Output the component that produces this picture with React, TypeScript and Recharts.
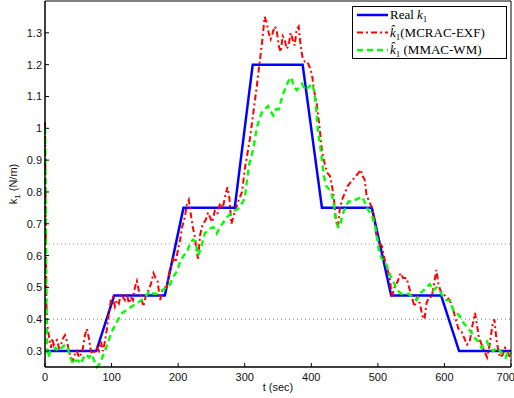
import { Legend, Line, LineChart, ReferenceLine, XAxis, YAxis } from 'recharts';

const timeTicks = [0, 100, 200, 300, 400, 500, 600, 700];
const gainTicks = [0.3, 0.4, 0.5, 0.6, 0.7, 0.8, 0.9, 1, 1.1, 1.2, 1.3];
const guideLevels = [0.4, 0.637];

// [t (sec), k1 (N/m)]
const realSamples: [number, number][] = [
  [0, 0.3], [77, 0.3], [104, 0.475], [180, 0.475], [208, 0.75], [285, 0.75], [312, 1.2],
  [387, 1.2], [416, 0.75], [491, 0.75], [520, 0.475], [595, 0.475], [622, 0.3], [700, 0.3],
];

const mcracSamples: [number, number][] = [
  [0, 1.02], [1, 0.72], [2, 0.46], [3, 0.39], [5, 0.36], [7, 0.33], [9, 0.31], [11, 0.34], [13, 0.32],
  [15, 0.33], [18, 0.335], [21, 0.31], [24, 0.32], [27, 0.34], [30, 0.35], [33, 0.33], [36, 0.3],
  [39, 0.28], [42, 0.27], [45, 0.29], [48, 0.3], [51, 0.28], [54, 0.29], [57, 0.31], [60, 0.35],
  [63, 0.37], [66, 0.34], [69, 0.3], [72, 0.29], [75, 0.3], [78, 0.31], [81, 0.3], [84, 0.33],
  [87, 0.3], [90, 0.33], [93, 0.37], [96, 0.42], [99, 0.46],
  [102, 0.47], [105, 0.44], [108, 0.46], [111, 0.45], [114, 0.48], [117, 0.47], [120, 0.46],
  [123, 0.48], [126, 0.45], [129, 0.47], [132, 0.46], [135, 0.5], [138, 0.52], [141, 0.49],
  [144, 0.47], [148, 0.44], [151, 0.47], [155, 0.49], [159, 0.51], [163, 0.545], [166, 0.53],
  [169, 0.52], [173, 0.46], [176, 0.49], [180, 0.5], [183, 0.5], [187, 0.55], [190, 0.57],
  [193, 0.59], [196, 0.58], [200, 0.62],
  [203, 0.65], [206, 0.69], [210, 0.72], [213, 0.76], [216, 0.775], [219, 0.73], [222, 0.69],
  [225, 0.66], [228, 0.61], [230, 0.59], [233, 0.665], [237, 0.7], [241, 0.71], [245, 0.735],
  [248, 0.72], [251, 0.705], [255, 0.74], [259, 0.73], [263, 0.765], [267, 0.75], [271, 0.79],
  [274, 0.815], [277, 0.78], [280, 0.7], [284, 0.73], [288, 0.755], [292, 0.78], [296, 0.8],
  [300, 0.87],
  [304, 0.92], [308, 0.97], [313, 1.05], [318, 1.13], [322, 1.2], [326, 1.27], [330, 1.35],
  [333, 1.33], [336, 1.3], [339, 1.28], [342, 1.3], [345, 1.32], [348, 1.31], [351, 1.26],
  [354, 1.24], [357, 1.29], [360, 1.28], [363, 1.25], [366, 1.26], [369, 1.3], [372, 1.28],
  [375, 1.26], [378, 1.31], [381, 1.32], [384, 1.26], [387, 1.22], [390, 1.21], [394, 1.21],
  [398, 1.19],
  [401, 1.17], [404, 1.12], [408, 1.08], [412, 1.01], [416, 0.93], [420, 0.89], [424, 0.86],
  [428, 0.85], [431, 0.82], [434, 0.78], [437, 0.71], [440, 0.69], [443, 0.75], [447, 0.78],
  [451, 0.8], [455, 0.82], [459, 0.83], [463, 0.84], [467, 0.85], [471, 0.86], [474, 0.87],
  [477, 0.85], [480, 0.84], [483, 0.79], [487, 0.77], [491, 0.75], [494, 0.72], [498, 0.66],
  [502, 0.64], [506, 0.63], [510, 0.59], [514, 0.56], [518, 0.53], [521, 0.47], [525, 0.5],
  [530, 0.52], [534, 0.545], [538, 0.53], [543, 0.53], [547, 0.5], [551, 0.47], [555, 0.44],
  [559, 0.47], [563, 0.45], [567, 0.41], [570, 0.4], [573, 0.45], [577, 0.47], [581, 0.47],
  [585, 0.52], [588, 0.555], [591, 0.51], [594, 0.49], [598, 0.48],
  [603, 0.47], [608, 0.46], [613, 0.43], [617, 0.4], [621, 0.37], [626, 0.36], [630, 0.34],
  [634, 0.32], [638, 0.33], [642, 0.38], [646, 0.42], [649, 0.38], [652, 0.34], [656, 0.32],
  [660, 0.3], [664, 0.28], [668, 0.32], [672, 0.38], [675, 0.4], [678, 0.34], [681, 0.3],
  [684, 0.28], [688, 0.29], [691, 0.31], [695, 0.3], [698, 0.28], [700, 0.27],
];

const mmacSamples: [number, number][] = [
  [0, 1.0], [1, 0.78], [2, 0.5], [3, 0.31], [5, 0.28], [8, 0.3], [12, 0.3], [16, 0.31], [20, 0.3],
  [25, 0.31], [30, 0.32], [34, 0.31], [38, 0.28], [42, 0.26], [46, 0.27], [50, 0.27], [54, 0.26],
  [58, 0.28], [62, 0.29], [66, 0.28], [70, 0.29], [74, 0.27], [78, 0.25], [82, 0.26], [86, 0.28],
  [90, 0.3], [95, 0.33], [100, 0.36], [105, 0.38], [110, 0.4], [116, 0.42], [123, 0.43],
  [130, 0.44], [138, 0.45], [145, 0.46], [150, 0.47], [158, 0.49], [163, 0.48], [168, 0.48],
  [175, 0.49], [183, 0.5], [188, 0.51], [193, 0.535], [198, 0.55], [203, 0.58], [208, 0.6],
  [213, 0.61], [218, 0.64], [222, 0.65], [226, 0.645], [230, 0.6], [234, 0.62], [240, 0.67],
  [248, 0.685], [253, 0.69], [258, 0.67], [263, 0.69], [268, 0.705], [273, 0.72], [278, 0.73],
  [283, 0.74], [288, 0.745], [292, 0.75], [296, 0.765], [300, 0.78], [303, 0.83], [307, 0.89],
  [311, 0.92], [314, 0.95], [318, 1.0], [322, 1.03], [326, 1.05], [330, 1.06], [335, 1.07],
  [340, 1.05], [343, 1.04], [347, 1.06], [351, 1.06], [355, 1.09], [358, 1.11], [362, 1.13],
  [366, 1.15], [370, 1.16], [374, 1.13], [378, 1.12], [382, 1.13], [386, 1.14], [391, 1.12],
  [396, 1.13], [401, 1.14], [404, 1.12], [407, 1.07], [410, 0.99], [413, 0.95], [416, 0.9],
  [419, 0.85], [422, 0.82], [426, 0.81], [430, 0.8], [434, 0.76], [437, 0.71], [440, 0.69],
  [443, 0.69], [447, 0.73], [451, 0.75], [456, 0.77], [461, 0.77], [466, 0.775], [471, 0.78],
  [476, 0.785], [480, 0.77], [485, 0.745], [490, 0.73], [495, 0.7], [498, 0.67], [502, 0.61],
  [506, 0.59], [511, 0.58], [516, 0.555], [520, 0.53], [525, 0.51], [530, 0.49], [535, 0.48],
  [540, 0.48], [546, 0.48], [552, 0.47], [558, 0.46], [563, 0.48], [568, 0.49], [573, 0.5],
  [578, 0.51], [583, 0.49], [588, 0.5], [593, 0.49], [598, 0.47], [603, 0.46], [608, 0.46],
  [613, 0.43], [618, 0.42], [623, 0.41], [628, 0.39], [634, 0.375], [640, 0.36], [646, 0.34],
  [651, 0.33], [656, 0.31], [660, 0.32], [664, 0.33], [668, 0.31], [673, 0.3], [679, 0.31],
  [684, 0.3], [688, 0.29], [692, 0.28], [696, 0.3], [700, 0.29],
];

const toPoints = (s: [number, number][]) => s.map(([t, k]) => ({ t, k }));

const SANS = '"Liberation Sans", Arial, Helvetica, sans-serif';
const SERIF = '"Liberation Serif", "Times New Roman", Times, serif';

const tickStyle = { fontSize: 11, fill: '#111', fontFamily: SANS };
const fmtGain = (v: number) => String(Number(v.toFixed(1)));

const legendRows = [
  { color: '#0000ff', dash: undefined, width: 2.5, pre: 'Real ', hat: false, post: '' },
  { color: '#ff0000', dash: '6 3 2 3', width: 2, pre: '', hat: true, post: '(MCRAC-EXF)' },
  { color: '#00ff00', dash: '6 4', width: 2.4, pre: '', hat: true, post: ' (MMAC-WM)' },
];

function LegendBox() {
  return (
    <svg width={156} height={54} style={{ display: 'block' }}>
      <rect x={0.5} y={0.5} width={154} height={52} fill="#fff" stroke="#000" strokeWidth={1} />
      {legendRows.map((r, i) => {
        const cy = 9 + i * 17.5;
        return (
          <g key={i}>
            <line x1={5} x2={36} y1={cy} y2={cy} stroke={r.color} strokeWidth={r.width} strokeDasharray={r.dash} />
            <text x={38} y={cy + 4} fontFamily={SERIF} fontSize={13} fill="#000">
              {r.pre}
              <tspan fontStyle="italic">{r.hat ? 'k\u0302' : 'k'}</tspan>
              <tspan dy={3} fontSize={9}>1</tspan>
              <tspan dy={-3}>{r.post}</tspan>
            </text>
          </g>
        );
      })}
    </svg>
  );
}

const timeLabel = (props: any) => {
  const vb = props.viewBox ?? { x: 45, y: 367, width: 466 };
  return (
    <text x={vb.x + vb.width / 2} y={vb.y + 24} textAnchor="middle" fontFamily={SANS} fontSize={11} fill="#111">
      t (sec)
    </text>
  );
};

const gainLabel = (props: any) => {
  const vb = props.viewBox ?? { y: 1, height: 366 };
  const cy = vb.y + vb.height / 2;
  return (
    <text transform={`translate(17 ${cy}) rotate(-90)`} textAnchor="middle" fontFamily={SANS} fontSize={11} fill="#111">
      k<tspan dy={3} fontSize={8}>1</tspan>
      <tspan dy={-3}> (N/m)</tspan>
    </text>
  );
};

export default function App() {
  return (
    <div style={{ position: 'absolute', left: 0, top: 0, width: 514, height: 398, background: '#fff' }}>
      <LineChart width={514} height={398} margin={{ top: 0, right: 2, bottom: 0, left: 0 }}>
        <XAxis
          dataKey="t"
          type="number"
          domain={[0, 700]}
          ticks={timeTicks}
          height={31}
          tickSize={-4}
          tickMargin={10}
          tick={tickStyle}
          stroke="#000"
          axisLine={{ stroke: '#000', strokeWidth: 1.5 }}
          tickLine={{ stroke: '#000' }}
          label={timeLabel}
        />
        <XAxis
          xAxisId="top"
          orientation="top"
          type="number"
          domain={[0, 700]}
          ticks={timeTicks}
          height={1}
          tickSize={-4}
          tickFormatter={() => ''}
          axisLine={{ stroke: '#000', strokeWidth: 1 }}
          tickLine={{ stroke: '#000' }}
        />
        <YAxis
          type="number"
          domain={[0.25, 1.4]}
          ticks={gainTicks}
          width={45}
          tickSize={-4}
          tickMargin={7}
          tick={tickStyle}
          tickFormatter={fmtGain}
          axisLine={{ stroke: '#000', strokeWidth: 1.5 }}
          tickLine={{ stroke: '#000' }}
          label={gainLabel}
        />
        <YAxis
          yAxisId="right"
          orientation="right"
          type="number"
          domain={[0.25, 1.4]}
          ticks={gainTicks}
          width={1}
          tickSize={-4}
          tickFormatter={() => ''}
          axisLine={{ stroke: '#000', strokeWidth: 1 }}
          tickLine={{ stroke: '#000' }}
        />
        {guideLevels.map((g) => (
          <ReferenceLine key={g} y={g} stroke="#888" strokeWidth={1} strokeDasharray="1 3" />
        ))}
        <Line
          data={toPoints(realSamples)}
          dataKey="k"
          type="linear"
          stroke="#0000ff"
          strokeWidth={2.5}
          dot={false}
          activeDot={false}
          isAnimationActive={false}
        />
        <Line
          data={toPoints(mcracSamples)}
          dataKey="k"
          type="linear"
          stroke="#ff0000"
          strokeWidth={2}
          strokeDasharray="6 3 2 3"
          dot={false}
          activeDot={false}
          isAnimationActive={false}
        />
        <Line
          data={toPoints(mmacSamples)}
          dataKey="k"
          type="linear"
          stroke="#00ff00"
          strokeWidth={2.4}
          strokeDasharray="6 4"
          dot={false}
          activeDot={false}
          isAnimationActive={false}
        />
        <Legend
          layout="vertical"
          align="center"
          verticalAlign="middle"
          wrapperStyle={{ top: 6, left: 352, width: 156, height: 54 }}
          content={() => <LegendBox />}
        />
      </LineChart>
    </div>
  );
}
